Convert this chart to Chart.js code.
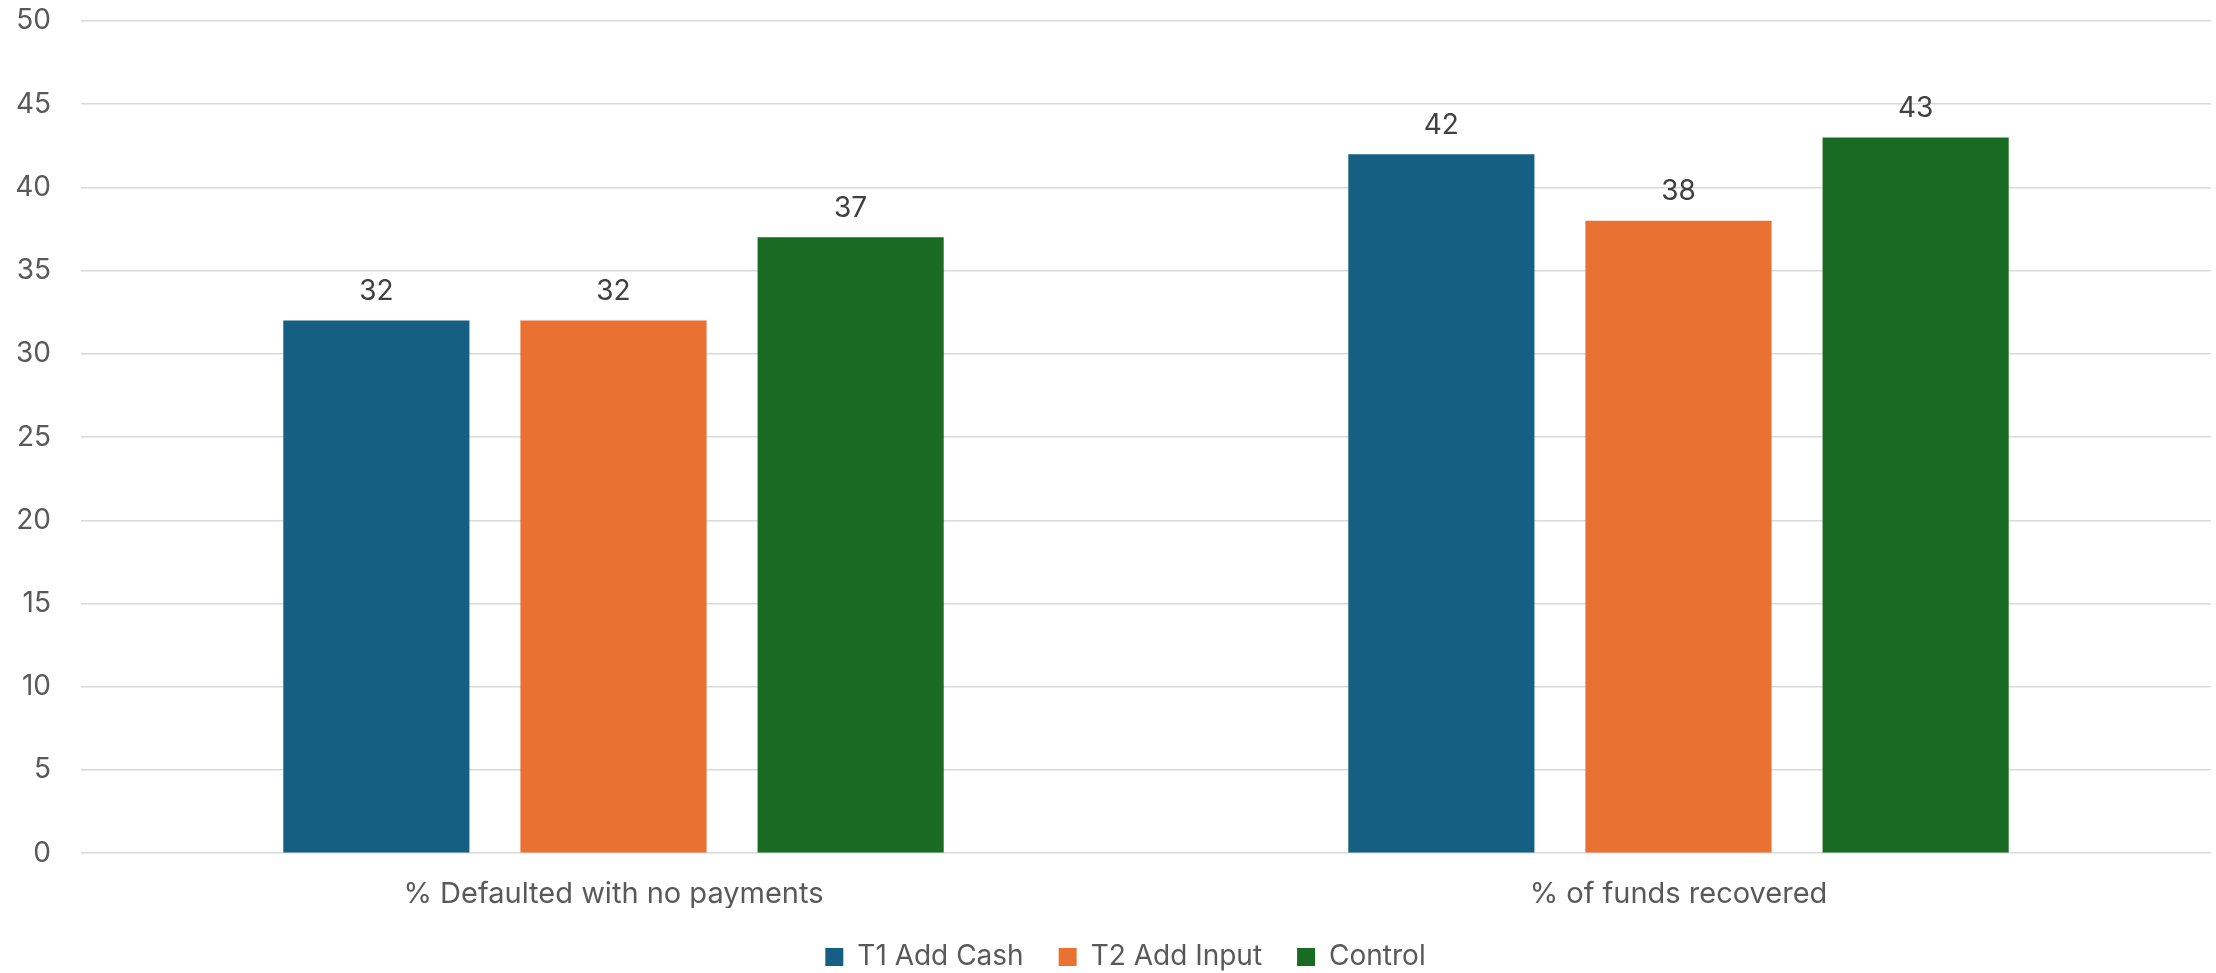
<!DOCTYPE html>
<html>
<head>
<meta charset="utf-8">
<script src="https://cdn.jsdelivr.net/npm/chart.js@4/dist/chart.umd.min.js"></script>
<style>
html,body{margin:0;padding:0;background:#fff;}
#wrap{width:2216px;height:973px;position:relative;}
</style>
</head>
<body>
<div id="wrap"><canvas id="c"></canvas></div>
<script>
const categories = ["% Defaulted with no payments", "% of funds recovered"];
const t1AddCash = [32, 42];
const t2AddInput = [32, 38];
const control = [37, 43];
const seriesNames = ["T1 Add Cash", "T2 Add Input", "Control"];
const seriesColors = ["#156082", "#E97132", "#196B24"];
const yTicks = [0, 5, 10, 15, 20, 25, 30, 35, 40, 45, 50];

const FONT = "Inter, Roboto, 'Liberation Sans', Arial, sans-serif";
const FS = 28;

const valueLabels = {
  id: 'valueLabels',
  afterDatasetsDraw(chart) {
    const ctx = chart.ctx;
    ctx.save();
    ctx.font = FS + "px " + FONT;
    ctx.fillStyle = "#404040";
    ctx.textAlign = "center";
    ctx.textBaseline = "middle";
    chart.data.datasets.forEach((ds, i) => {
      const meta = chart.getDatasetMeta(i);
      meta.data.forEach((bar, j) => {
        ctx.fillText(String(ds.data[j]), bar.x, bar.y - 29);
      });
    });
    ctx.restore();
  }
};

const legendShift = {
  id: 'legendShift',
  afterLayout(chart) {
    if (chart.legend) { chart.legend.left += 20; chart.legend.right += 20; }
  }
};

const seriesData = [t1AddCash, t2AddInput, control];
new Chart(document.getElementById('c'), {
  type: 'bar',
  data: {
    labels: categories,
    datasets: seriesNames.map((n, i) => ({
      label: n,
      data: seriesData[i],
      backgroundColor: seriesColors[i],
      borderWidth: 0,
      categoryPercentage: 0.668,
      barPercentage: 0.785
    }))
  },
  options: {
    responsive: true,
    maintainAspectRatio: false,
    animation: false,
    layout: { padding: { left: 0, right: 5, top: 21, bottom: -8 } },
    plugins: {
      tooltip: { enabled: false },
      legend: {
        position: 'bottom',
        labels: {
          boxWidth: 18, boxHeight: 18, padding: 35,
          color: "#595959",
          font: { size: FS, family: FONT }
        }
      }
    },
    scales: {
      x: {
        afterFit(scale) { scale.height -= 28; },
        grid: { display: false, drawTicks: false },
        border: { display: false },
        ticks: { color: "#595959", padding: 24, font: { size: 29, family: FONT } }
      },
      y: {
        min: 0, max: 50,
        afterFit(scale) { scale.width = 81; scale.paddingTop = 0; scale.paddingBottom = 0; },
        afterBuildTicks(scale) { scale.ticks = yTicks.map(v => ({ value: v })); },
        grid: { color: "#d9d9d9", lineWidth: 1.5, drawTicks: false },
        border: { display: false },
        ticks: { color: "#595959", padding: 30, font: { size: FS, family: FONT } }
      }
    }
  },
  plugins: [valueLabels, legendShift]
});
</script>
</body>
</html>
